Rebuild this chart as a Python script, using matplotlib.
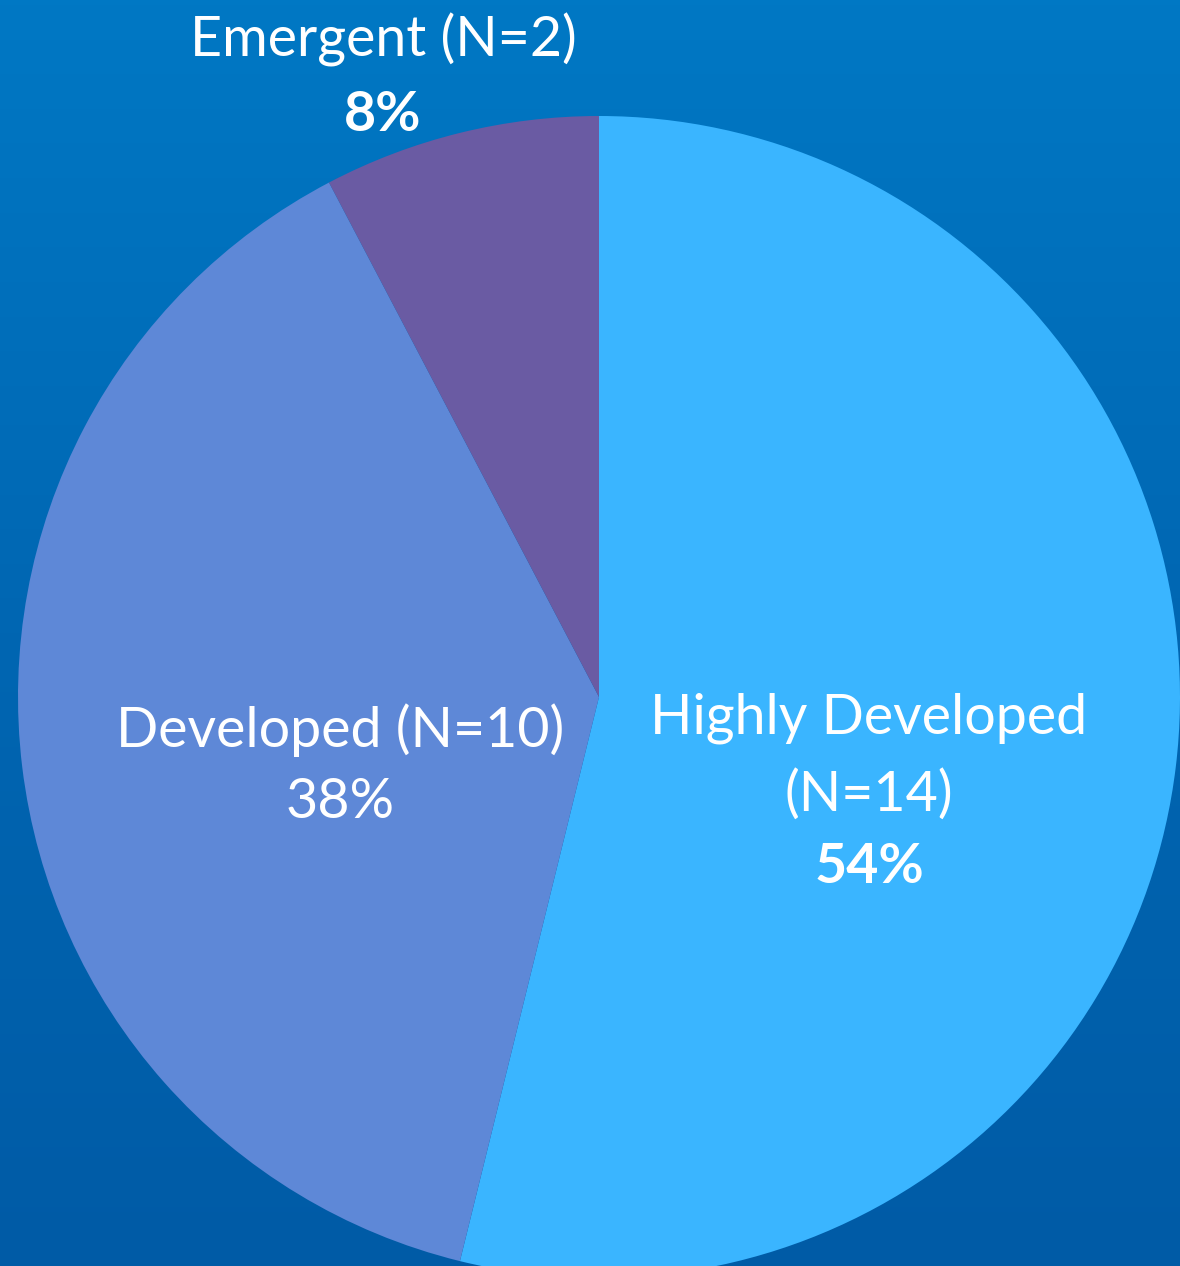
import numpy as np
import matplotlib
matplotlib.use("Agg")
import matplotlib.pyplot as plt
from matplotlib.colors import LinearSegmentedColormap

categories = ["Highly Developed", "Developed", "Emergent"]
counts = [14, 10, 2]
colors = ["#3AB5FF", "#5E88D7", "#6A5BA3"]

W, H = 1180, 1266
fig = plt.figure(figsize=(W / 100, H / 100), dpi=100)
ax = fig.add_axes([0, 0, 1, 1])

# background gradient
cmap = LinearSegmentedColormap.from_list("bg", ["#005BA6", "#0066B2", "#0078C4"])
grad = np.linspace(0, 1, 256).reshape(-1, 1)
ax.imshow(grad, extent=(0, W, 0, H), origin="lower", cmap=cmap, aspect="auto", zorder=0)

cx, cy, r = 599, H - 697, 581
wedges, _ = ax.pie(counts, colors=colors, startangle=90, counterclock=False,
                   center=(cx, cy), radius=r, frame=True,
                   wedgeprops=dict(linewidth=0, zorder=2))
ax.set_xlim(0, W)
ax.set_ylim(0, H)
ax.set_aspect("equal")
ax.axis("off")

total = sum(counts)
pct = [f"{round(c / total * 100)}%" for c in counts]
fam = ["Lato", "DejaVu Sans"]
fs = 40

def lab(x, y, s, bold=False):
    ax.text(x, H - y, s, ha="center", va="center", color="white", fontsize=fs,
            fontweight="bold" if bold else "normal", family=fam, zorder=5)

# Highly Developed
lab(869, 718, categories[0])
lab(869, 795, f"(N={counts[0]})")
lab(869, 867, pct[0], bold=True)
# Developed
lab(340, 730, f"{categories[1]} (N={counts[1]})")
lab(340, 803, pct[1])
# Emergent
lab(383, 40, f"{categories[2]} (N={counts[2]})")
lab(383, 115, pct[2], bold=True)

fig.savefig("out.png", dpi=100)
